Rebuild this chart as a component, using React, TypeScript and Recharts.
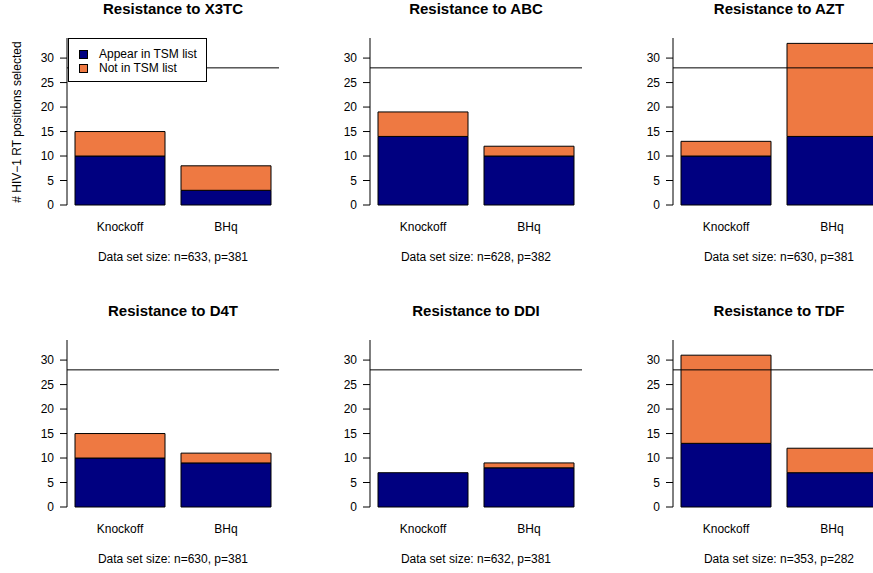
import React from 'react';
import { BarChart, Bar, XAxis, YAxis, ReferenceLine } from 'recharts';

const drugs = ['X3TC', 'ABC', 'AZT', 'D4T', 'DDI', 'TDF'];
const methods = ['Knockoff', 'BHq'];
// positions selected per drug, as [Knockoff, BHq]
const inTsmList = [[10, 3], [14, 10], [10, 14], [10, 9], [7, 8], [13, 7]];
const notInTsmList = [[5, 5], [5, 2], [3, 19], [5, 2], [0, 1], [18, 5]];
const dataSetSizes = [
  'n=633, p=381',
  'n=628, p=382',
  'n=630, p=381',
  'n=630, p=381',
  'n=632, p=381',
  'n=353, p=282',
];
const yTicks = [0, 5, 10, 15, 20, 25, 30];
const tsmListSize = 28;

const series = [
  { key: 'inList', name: 'Appear in TSM list', color: '#000080' },
  { key: 'notInList', name: 'Not in TSM list', color: '#EE7942' },
];

const FONT = '"Liberation Sans", Arial, Helvetica, sans-serif';
const PW = 303;
const PH = 302;

const MethodTick = (props: any) => {
  const { x, y, payload } = props;
  return (
    <text x={x} y={y} dy={18} textAnchor="middle" fontSize={12} fontFamily={FONT} fill="#000">
      {payload.value}
    </text>
  );
};

function TsmLegend() {
  return (
    <div
      style={{
        position: 'absolute',
        left: 68,
        top: 38,
        width: 139,
        height: 44,
        boxSizing: 'border-box',
        border: '1px solid #000',
        background: '#fff',
        fontFamily: FONT,
        fontSize: 12,
      }}
    >
      {series.map((s, i) => (
        <div key={s.key} style={{ position: 'absolute', left: 10, top: 9 + i * 14, height: 12, display: 'flex', alignItems: 'center' }}>
          <span style={{ width: 9, height: 9, boxSizing: 'border-box', border: '1px solid #000', background: s.color, display: 'inline-block' }} />
          <span style={{ marginLeft: 11, lineHeight: '12px', whiteSpace: 'nowrap' }}>{s.name}</span>
        </div>
      ))}
    </div>
  );
}

function Panel({ idx }: { idx: number }) {
  const col = idx % 3;
  const row = Math.floor(idx / 3);
  const data = methods.map((m, j) => ({
    method: m,
    inList: inTsmList[idx][j],
    notInList: notInTsmList[idx][j],
  }));

  return (
    <div style={{ position: 'absolute', left: col * PW, top: row * PH, width: PW, height: PH }}>
      <div
        style={{
          position: 'absolute',
          left: 23,
          width: 300,
          top: 1,
          textAlign: 'center',
          fontFamily: FONT,
          fontWeight: 'bold',
          fontSize: 15,
          lineHeight: '15px',
          whiteSpace: 'nowrap',
        }}
      >
        Resistance to {drugs[idx]}
      </div>
      <BarChart
        width={PW}
        height={PH}
        data={data}
        margin={{ top: 38, right: 24, left: 37, bottom: 37 }}
        barCategoryGap={8}
      >
        <XAxis dataKey="method" axisLine={false} tickLine={false} height={60} interval={0} tick={<MethodTick />} />
        <YAxis
          type="number"
          domain={[0, 34.1]}
          ticks={yTicks}
          width={30}
          tickSize={7}
          tickMargin={6}
          axisLine={{ stroke: '#000' }}
          tickLine={{ stroke: '#000' }}
          tick={{ fontSize: 12, fontFamily: FONT, fill: '#000' }}
        />
        {series.map((s) => (
          <Bar
            key={s.key}
            dataKey={s.key}
            name={s.name}
            stackId="sel"
            fill={s.color}
            stroke="#000"
            strokeWidth={1}
            isAnimationActive={false}
          />
        ))}
        <ReferenceLine y={tsmListSize} stroke="#000" strokeWidth={1} />
      </BarChart>
      <div
        style={{
          position: 'absolute',
          left: 23,
          width: 300,
          top: 251,
          textAlign: 'center',
          fontFamily: FONT,
          fontSize: 12,
          lineHeight: '12px',
          whiteSpace: 'nowrap',
        }}
      >
        Data set size: {dataSetSizes[idx]}
      </div>
      {idx === 0 && <TsmLegend />}
      {idx === 0 && (
        <div
          style={{
            position: 'absolute',
            left: 17 - 100,
            top: 122 - 7,
            width: 200,
            height: 14,
            lineHeight: '14px',
            textAlign: 'center',
            fontFamily: FONT,
            fontSize: 12,
            transform: 'rotate(-90deg)',
            whiteSpace: 'nowrap',
          }}
        >
          # HIV−1 RT positions selected
        </div>
      )}
    </div>
  );
}

export default function App() {
  return (
    <div style={{ position: 'absolute', left: 0, top: 0, width: 873, height: 573, overflow: 'hidden', background: '#fff' }}>
      {drugs.map((_, i) => (
        <Panel key={i} idx={i} />
      ))}
    </div>
  );
}
